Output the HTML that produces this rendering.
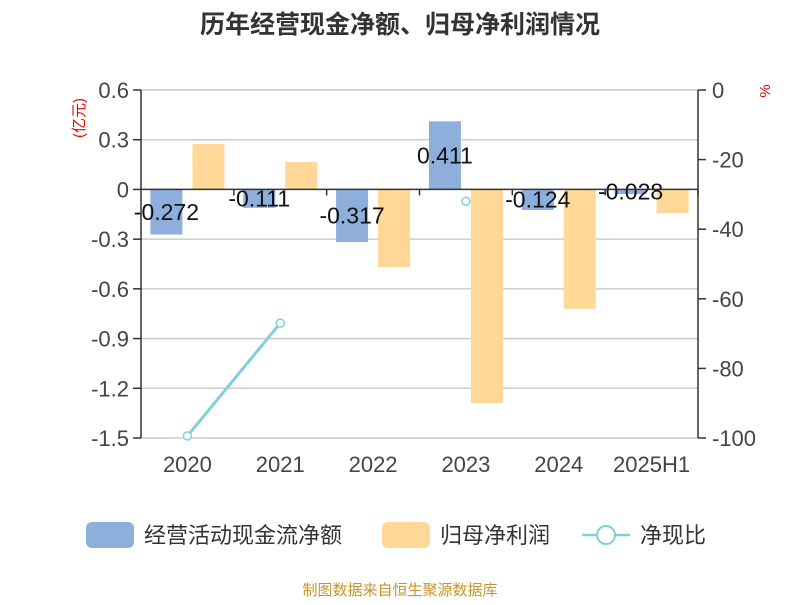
<!DOCTYPE html>
<html><head><meta charset="utf-8"><style>
body{margin:0;background:#fff;width:800px;height:600px;overflow:hidden;font-family:"Liberation Sans","Noto Sans CJK SC",sans-serif}
</style></head><body>
<svg width="800" height="600" xmlns="http://www.w3.org/2000/svg" font-family="'Liberation Sans','Noto Sans CJK SC',sans-serif">
<text x="400" y="33" text-anchor="middle" font-size="25" font-weight="bold" fill="#333">历年经营现金净额、归母净利润情况</text>
<g id="grid"></g>
<g id="bars"></g>
<g id="line"></g>
<g id="axes"></g>
<text x="0" y="0" transform="translate(84,118) rotate(-90)" text-anchor="middle" font-size="15" fill="#e00">(亿元)</text>
<text x="0" y="0" transform="translate(770,91) rotate(-90)" text-anchor="middle" font-size="15" fill="#e00">%</text>
<g>
<rect x="86" y="522" width="48" height="26" rx="6" fill="#8eaedc"/>
<text x="144" y="543" font-size="22" fill="#333">经营活动现金流净额</text>
<rect x="382" y="522" width="48" height="26" rx="6" fill="#ffd797"/>
<text x="440" y="543" font-size="22" fill="#333">归母净利润</text>
<line x1="582" y1="535" x2="630" y2="535" stroke="#80d0d8" stroke-width="2.5"/>
<circle cx="606" cy="535" r="9" fill="#fff" stroke="#80d0d8" stroke-width="2"/>
<text x="640" y="543" font-size="22" fill="#333">净现比</text>
</g>
<text x="400" y="595" text-anchor="middle" font-size="15" fill="#c8942a">制图数据来自恒生聚源数据库</text>
</svg>
<script>
const categories=["2020","2021","2022","2023","2024","2025H1"];
const cashflow=[-0.272,-0.111,-0.317,0.411,-0.124,-0.028];
const profit=[0.274,0.165,-0.468,-1.289,-0.72,-0.142];
const ratio=[-99.4,-67,null,-32,null,null];
const leftTicks=[0.6,0.3,0,-0.3,-0.6,-0.9,-1.2,-1.5];
const rightTicks=[0,-20,-40,-60,-80,-100];
const NS="http://www.w3.org/2000/svg";
const X0=141,X1=698,Y0=90,Y1=438;
const yL=v=>Y0+(0.6-v)/2.1*(Y1-Y0);
const yR=v=>Y0+(0-v)/100*(Y1-Y0);
const bw=(X1-X0)/categories.length;
const xc=i=>X0+bw*(i+0.5);
function mk(tag,attrs,parent,txt){const e=document.createElementNS(NS,tag);for(const k in attrs)e.setAttribute(k,attrs[k]);if(txt!==undefined)e.textContent=txt;document.getElementById(parent).appendChild(e);return e;}
leftTicks.forEach((t,i)=>{
 if(t!==0){const g=mk('line',{x1:X0,x2:X1,y1:yL(t),y2:yL(t),stroke:'#ccc','stroke-width':1.5},'grid');
 
 }
 const tk=mk('line',{x1:X0-8,x2:X0,y1:yL(t),y2:yL(t),stroke:'#333','stroke-width':1.5},'axes');
 
 
 const l=mk('text',{x:X0-12,y:yL(t)+8,'text-anchor':'end','font-size':22,fill:'#444'},'axes',String(t));
 
 
});
rightTicks.forEach(t=>{
 const tk=mk('line',{x1:X1,x2:X1+8,y1:yR(t),y2:yR(t),stroke:'#333','stroke-width':1.5},'axes');
 
 
 const l=mk('text',{x:X1+14,y:yR(t)+8,'font-size':22,fill:'#444'},'axes',String(t));
 
 
});
categories.forEach((c,i)=>{
 const w=32;
 const b=mk('rect',{x:xc(i)-37,y:Math.min(yL(0),yL(cashflow[i])),width:w,height:Math.abs(yL(cashflow[i])-yL(0)),fill:'#8eaedc'},'bars');
 
 
 const p=mk('rect',{x:xc(i)+5,y:Math.min(yL(0),yL(profit[i])),width:w,height:Math.abs(yL(profit[i])-yL(0)),fill:'#ffd797'},'bars');
 
 
 const l=mk('text',{x:xc(i)-21,y:(yL(0)+yL(cashflow[i]))/2+8,'text-anchor':'middle','font-size':23,fill:'#111'},'bars',String(cashflow[i]));
 
 
 const xl=mk('text',{x:xc(i),y:Y1+34,'text-anchor':'middle','font-size':22,fill:'#444'},'axes',c);
 
 
 const xt=mk('line',{x1:X0+bw*(i+1),x2:X0+bw*(i+1),y1:yL(0),y2:yL(0)+6,stroke:'#333','stroke-width':1.5},'axes');
 
 
});
const zl=mk('line',{x1:X0,x2:X1,y1:yL(0),y2:yL(0),stroke:'#333','stroke-width':1.5},'axes');


const la=mk('line',{x1:X0,x2:X0,y1:Y0,y2:Y1,stroke:'#333','stroke-width':1.5},'axes');


const ra=mk('line',{x1:X1,x2:X1,y1:Y0,y2:Y1,stroke:'#333','stroke-width':1.5},'axes');


for(let i=0;i<ratio.length-1;i++){
 if(ratio[i]!==null&&ratio[i+1]!==null){
  const s=mk('line',{x1:xc(i),y1:yR(ratio[i]),x2:xc(i+1),y2:yR(ratio[i+1]),stroke:'#80d0d8','stroke-width':3},'line');
  
  
 }
}
ratio.forEach((v,i)=>{
 if(v===null)return;
 const c=mk('circle',{cx:xc(i),cy:yR(v),r:4,fill:'#fff',stroke:'#80d0d8','stroke-width':1.5},'line');
 
 
});
</script>
</body></html>
